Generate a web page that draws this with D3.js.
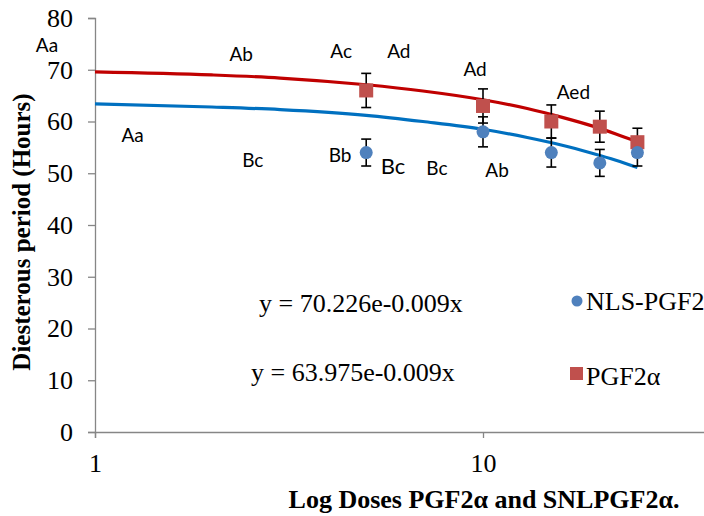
<!DOCTYPE html>
<html>
<head>
<meta charset="utf-8">
<script src="https://cdn.jsdelivr.net/npm/d3@7"></script>
<style>
  body { margin: 0; background: #fff; }
  svg { display: block; }
</style>
</head>
<body>
<div class="chart"></div>
<script>
// doses and measured means
const doses = [5, 10, 15, 20, 25];
const nlsValues = [54, 58, 54, 52, 54];
const nlsErrors = [2.6, 2.9, 2.8, 2.6, 2.6];
const pgfValues = [66, 63, 60, 59, 56];
const pgfErrors = [3.3, 3.3, 3.2, 3.0, 2.7];

// exponential trendlines
const trendDoses = [1, 2, 3, 5, 7, 10, 13, 16, 19, 22, 25];
const pgfTrend = [69.6, 69.0, 68.4, 67.1, 65.9, 64.2, 62.5, 60.8, 59.2, 57.6, 56.1];
const nlsTrend = [63.4, 62.8, 62.3, 61.2, 60.0, 58.5, 56.9, 55.4, 53.9, 52.5, 51.1];

const xTicks = [1, 10];
const yTicks = [0, 10, 20, 30, 40, 50, 60, 70, 80];

// significance letters
const letters = [
  {t: "Aa", x: 0.752, y: 74.8}, {t: "Ab", x: 2.38, y: 73.0},
  {t: "Ac", x: 4.31, y: 73.6}, {t: "Ad", x: 6.07, y: 73.6},
  {t: "Ad", x: 9.54, y: 70.0}, {t: "Aed", x: 17.1, y: 65.7},
  {t: "Aa", x: 1.25, y: 57.4}, {t: "Bc", x: 2.55, y: 52.4},
  {t: "Bb", x: 4.28, y: 53.5}, {t: "Bc", x: 5.86, y: 51.4, big: true},
  {t: "Bc", x: 7.61, y: 51.0}, {t: "Ab", x: 10.87, y: 50.6}
];

const W = 704, H = 516;
const svg = d3.select(".chart").append("svg")
  .attr("width", W).attr("height", H);

const x = d3.scaleLog().domain([1, 100]).range([95, 95 + 776]);
const y = d3.scaleLinear().domain([0, 80]).range([432, 18]);

const serif = "'Liberation Serif', 'Times New Roman', serif";
const sans = "Lato, 'Open Sans', sans-serif";

// Y axis
const yAxis = svg.append("g")
  .attr("transform", `translate(${x(1)},0)`)
  .call(d3.axisLeft(y).tickValues(yTicks).tickSize(7).tickPadding(15));
yAxis.select(".domain").attr("stroke", "#868686").attr("stroke-width", 1.3);
yAxis.selectAll(".tick line").attr("stroke", "#868686").attr("stroke-width", 1.3);
yAxis.selectAll("text").attr("font-family", serif).attr("font-size", 26).attr("fill", "#000");

// X axis
const xAxis = svg.append("g")
  .attr("transform", `translate(0,${y(0)})`)
  .call(d3.axisBottom(x).tickValues(xTicks).tickFormat(d3.format("d")).tickSize(6).tickPadding(16));
xAxis.select(".domain").attr("stroke", "#868686").attr("stroke-width", 1.3);
xAxis.selectAll(".tick line").attr("stroke", "#868686").attr("stroke-width", 1.3);
xAxis.selectAll("text").attr("font-family", serif).attr("font-size", 26).attr("fill", "#000");

// trendlines
const line = d3.line().x(d => x(d[0])).y(d => y(d[1])).curve(d3.curveMonotoneX);
svg.append("path")
  .attr("d", line(d3.zip(trendDoses, nlsTrend)))
  .attr("fill", "none").attr("stroke", "#0070C0").attr("stroke-width", 3.2);
svg.append("path")
  .attr("d", line(d3.zip(trendDoses, pgfTrend)))
  .attr("fill", "none").attr("stroke", "#C00000").attr("stroke-width", 3.2);

// error bars
function errorBars(vals, errs) {
  const g = svg.append("g").attr("stroke", "#000").attr("stroke-width", 1.6);
  doses.forEach((d, i) => {
    const cx = x(d), top = y(vals[i] + errs[i]), bot = y(vals[i] - errs[i]);
    g.append("line").attr("x1", cx).attr("x2", cx).attr("y1", top).attr("y2", bot);
    g.append("line").attr("x1", cx - 5).attr("x2", cx + 5).attr("y1", top).attr("y2", top);
    g.append("line").attr("x1", cx - 5).attr("x2", cx + 5).attr("y1", bot).attr("y2", bot);
  });
}
errorBars(pgfValues, pgfErrors);
errorBars(nlsValues, nlsErrors);

// markers
svg.selectAll(".sq")
  .data(doses)
  .join("rect")
  .attr("x", (d) => x(d) - 7)
  .attr("y", (d, i) => y(pgfValues[i]) - 7)
  .attr("width", 14).attr("height", 14)
  .attr("fill", "#C0504D");
svg.selectAll(".dot")
  .data(doses)
  .join("circle")
  .attr("cx", d => x(d))
  .attr("cy", (d, i) => y(nlsValues[i]))
  .attr("r", 6.5)
  .attr("fill", "#4F81BD");

// letters
svg.selectAll(".lt")
  .data(letters)
  .join("text")
  .attr("x", d => x(d.x))
  .attr("y", d => y(d.y))
  .attr("dy", "0.35em")
  .attr("text-anchor", "middle")
  .attr("font-family", sans)
  .attr("font-size", d => d.big ? 22 : 19)
  .text(d => d.t);

// equations
svg.append("text").attr("x", 259).attr("y", 312)
  .attr("font-family", serif).attr("font-size", 26)
  .text("y = 70.226e-0.009x");
svg.append("text").attr("x", 251).attr("y", 381)
  .attr("font-family", serif).attr("font-size", 26)
  .text("y = 63.975e-0.009x");

// legend
svg.append("circle").attr("cx", 577).attr("cy", 301).attr("r", 5.5).attr("fill", "#4F81BD");
svg.append("text").attr("x", 586).attr("y", 310)
  .attr("font-family", serif).attr("font-size", 26)
  .text("NLS-PGF2α");
svg.append("rect").attr("x", 570).attr("y", 367).attr("width", 13).attr("height", 13).attr("fill", "#C0504D");
svg.append("text").attr("x", 586).attr("y", 385)
  .attr("font-family", serif).attr("font-size", 26)
  .text("PGF2α");

// axis titles
svg.append("text")
  .attr("transform", `translate(30,232) rotate(-90)`)
  .attr("text-anchor", "middle")
  .attr("font-family", serif).attr("font-weight", "bold").attr("font-size", 25)
  .text("Diesterous period (Hours)");
svg.append("text")
  .attr("x", 484).attr("y", 508)
  .attr("text-anchor", "middle")
  .attr("font-family", serif).attr("font-weight", "bold").attr("font-size", 26)
  .text("Log Doses PGF2α and SNLPGF2α.");
</script>
</body>
</html>
